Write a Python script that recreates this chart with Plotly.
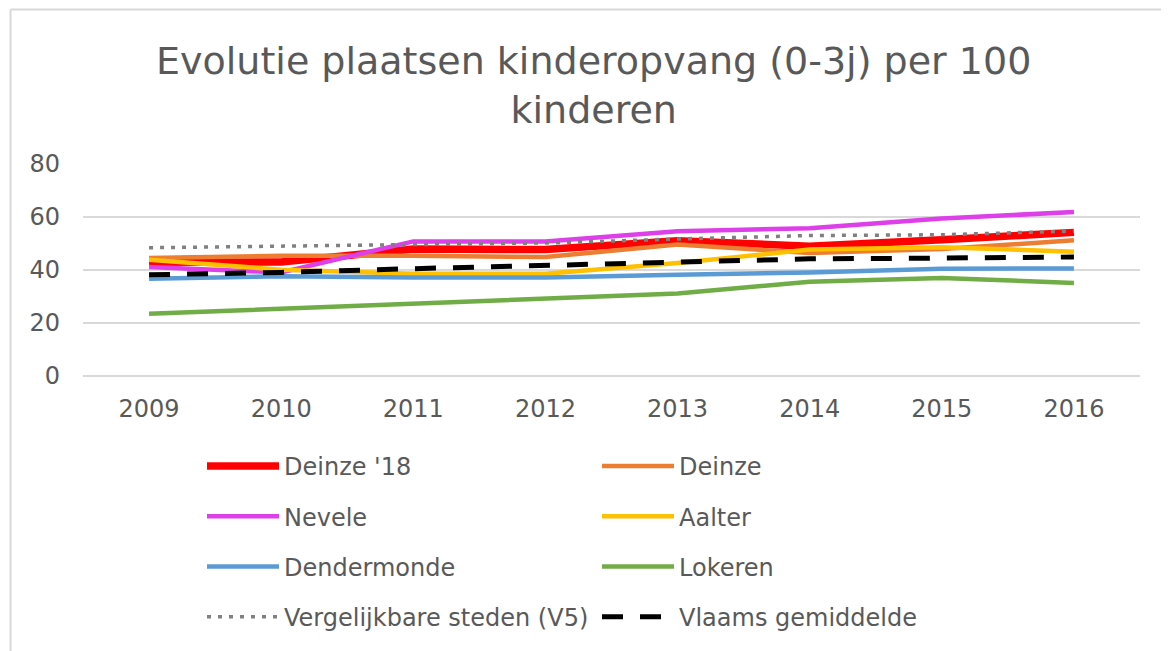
import plotly.graph_objects as go

years = [2009, 2010, 2011, 2012, 2013, 2014, 2015, 2016]

deinze18 = [42.9, 43.0, 47.9, 47.7, 51.0, 49.0, 51.4, 54.2]
deinze = [44.5, 45.4, 45.4, 44.9, 49.6, 46.4, 47.9, 51.2]
nevele = [41.1, 39.1, 50.8, 50.8, 54.6, 55.8, 59.4, 61.9]
aalter = [43.9, 40.1, 38.6, 38.6, 42.6, 47.7, 48.6, 46.9]
dendermonde = [36.7, 37.6, 37.2, 37.2, 38.2, 39.1, 40.5, 40.6]
lokeren = [23.5, 25.4, 27.3, 29.0, 31.1, 35.6, 37.0, 35.1]
v5 = [48.4, 49.0, 49.9, 50.2, 51.7, 53.0, 53.3, 54.7]
vlaams = [38.2, 39.1, 40.5, 41.8, 43.1, 44.2, 44.5, 44.9]

series = [
    ("Deinze '18", deinze18, "#FF0000", 7.5, "solid", "legend"),
    ("Deinze", deinze, "#ED7D31", 4.5, "solid", "legend2"),
    ("Nevele", nevele, "#DD3FE8", 4.5, "solid", "legend"),
    ("Aalter", aalter, "#FFC000", 4.5, "solid", "legend2"),
    ("Dendermonde", dendermonde, "#5B9BD5", 4.5, "solid", "legend"),
    ("Lokeren", lokeren, "#70AD47", 4.5, "solid", "legend2"),
    ("Vergelijkbare steden (V5)", v5, "#808080", 3.5, "4px,7px", "legend"),
    ("Vlaams gemiddelde", vlaams, "#000000", 5, "21px,17px", "legend2"),
]

FONT = "DejaVu Sans"
GREY = "#595959"
W, H = 1161, 643
L, R, T, B = 75, 29, 156, 275
PW, PH = W - L - R, H - T - B

fig = go.Figure()
for name, vals, color, width, dash, leg in series:
    fig.add_trace(go.Scatter(
        x=years, y=vals, name=name, mode="lines",
        line=dict(color=color, width=width, dash=dash),
        legend=leg, legendgroup=name,
    ))

legend_common = dict(
    orientation="v", traceorder="grouped", tracegroupgap=16,
    font=dict(family=FONT, size=24, color=GREY),
    bgcolor="rgba(0,0,0,0)", itemwidth=72, itemclick=False,
    xref="container", yref="container", xanchor="left", yanchor="top",
)

bx = (2.5 - L) / PW
by = 1 + (T - 1.5) / PH

fig.update_layout(
    width=W, height=H,
    paper_bgcolor="white", plot_bgcolor="white",
    margin=dict(l=L, r=R, t=T, b=B, autoexpand=False),
    font=dict(family=FONT, size=24, color=GREY),
    title=dict(
        text="Evolutie plaatsen kinderopvang (0-3j) per 100<br>kinderen",
        font=dict(family=FONT, size=38, color=GREY),
        x=585.7 / W, xanchor="center", xref="container",
        y=1 - 65.5 / H, yanchor="top", yref="container",
    ),
    xaxis=dict(
        range=[2008.5, 2016.5], tickmode="array", tickvals=years,
        ticktext=[str(y) for y in years], showgrid=False, zeroline=False,
        showline=False, ticks="", ticklabelstandoff=16,
        tickfont=dict(family=FONT, size=24, color=GREY),
    ),
    yaxis=dict(
        range=[0, 80], tickvals=[0, 20, 40, 60, 80], showgrid=True,
        gridcolor="#D9D9D9", gridwidth=1.5, zeroline=True,
        zerolinecolor="#D9D9D9", zerolinewidth=1.5, showline=False,
        ticks="", ticklabelstandoff=22,
        tickfont=dict(family=FONT, size=24, color=GREY),
    ),
    legend=dict(x=194 / W, y=1 - 436 / H, **legend_common),
    legend2=dict(x=589 / W, y=1 - 436 / H, **legend_common),
    showlegend=True,
    shapes=[
        dict(type="line", xref="paper", yref="paper",
             x0=bx, x1=1.1, y0=by, y1=by,
             line=dict(color="#D9D9D9", width=2)),
        dict(type="line", xref="paper", yref="paper",
             x0=bx, x1=bx, y0=by, y1=-2,
             line=dict(color="#D9D9D9", width=2)),
    ],
)

fig.write_html("out.html")
